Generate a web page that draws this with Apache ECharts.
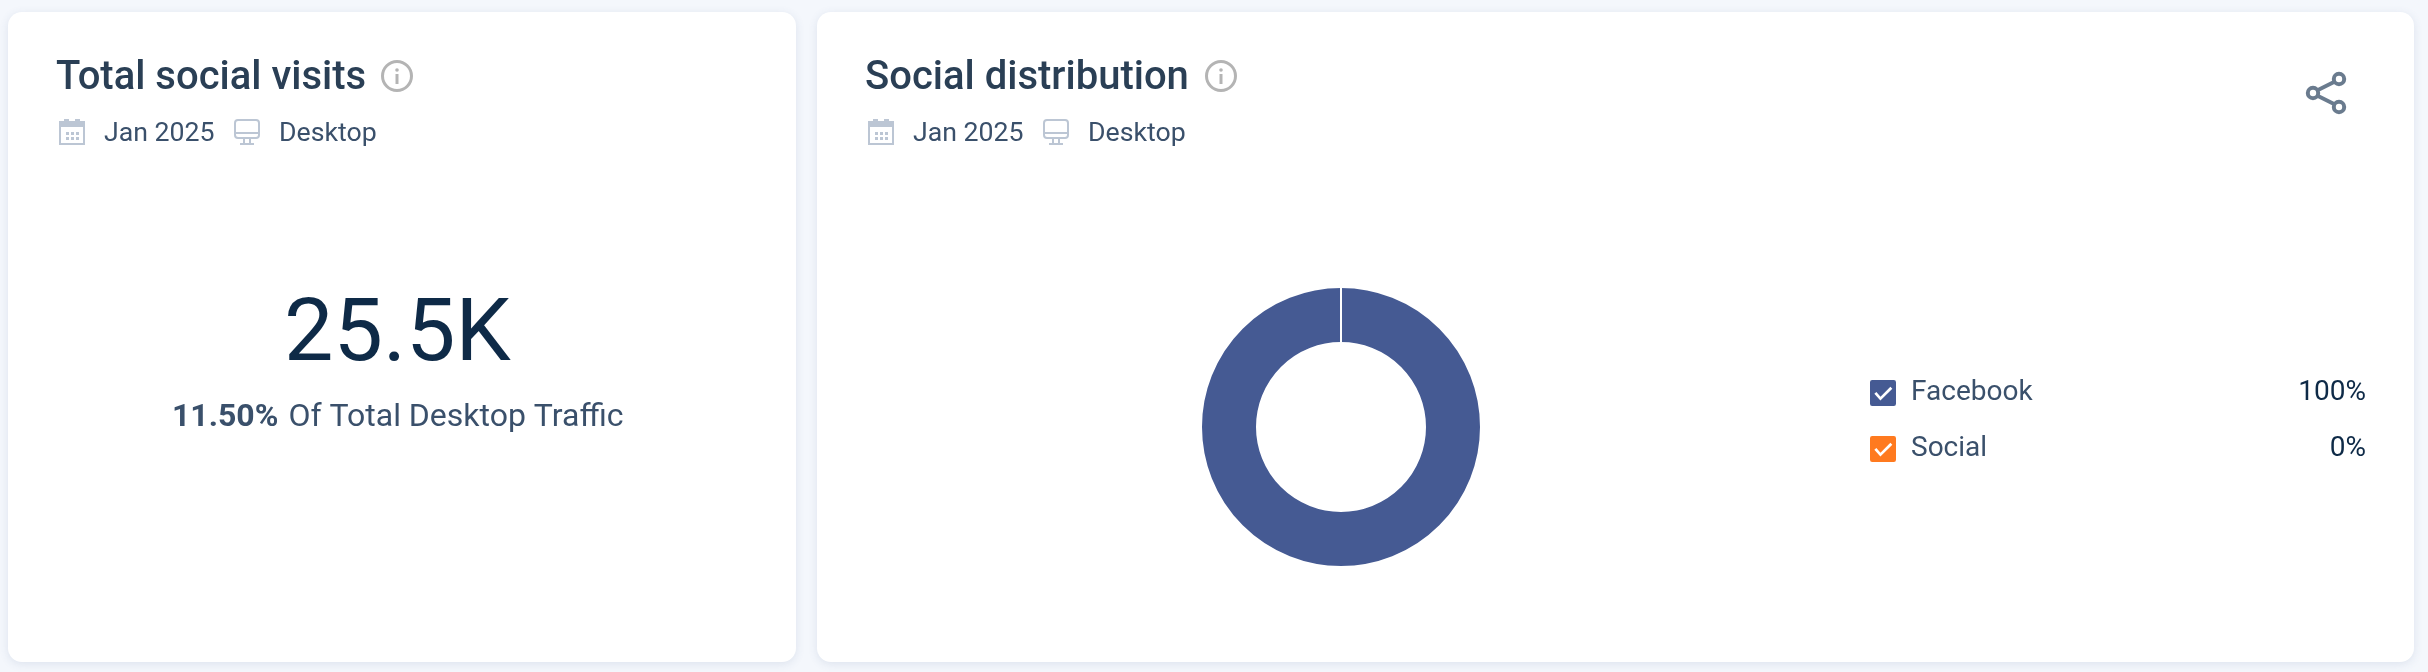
<!DOCTYPE html>
<html>
<head>
<meta charset="utf-8">
<title>Social visits</title>
<script src="https://cdn.jsdelivr.net/npm/echarts@6/dist/echarts.min.js"></script>
<style>
    html, body { margin: 0; padding: 0; width: 2428px; height: 672px; overflow: hidden; background: #f4f7fc; }
    .card { position: absolute; top: 12px; height: 650px; background: #fff; border-radius: 14px; box-shadow: 0 2px 10px rgba(60, 85, 130, 0.12); }
    #chart { position: absolute; left: 0; top: 0; width: 2428px; height: 672px; }
</style>
</head>
<body>
<div class="card" style="left: 8px; width: 788px;"></div>
<div class="card" style="left: 817px; width: 1597px;"></div>
<div id="chart"></div>
<script>
var socialNames = ['Facebook', 'Social'];
var socialValues = [100, 0];
var socialColors = ['#455a93', '#ff7a1f'];
var periodLabel = 'Jan 2025';
var deviceLabel = 'Desktop';
var totalVisits = '25.5K';
var trafficShare = '11.50%';

var FONT = 'Roboto';
var ICON = '#bcc6d4';
var checkIcon = 'path://M2 0H22Q24 0 24 2V22Q24 24 22 24H2Q0 24 0 22V2Q0 0 2 0Z' +
    'M4 12.8L9.6 19L20.6 8L18.8 6.2L9.7 15.4L5.9 11.1Z';

function label(text, left, top, size, color, weight) {
    return {
        text: text, left: left, top: top, padding: 0,
        textStyle: { fontFamily: FONT, fontSize: size, color: color, fontWeight: weight || 400, lineHeight: size + 6 }
    };
}

function infoIcon(x, y) {
    return {
        type: 'group', x: x, y: y, children: [
            { type: 'circle', shape: { cx: 0, cy: 0, r: 14.5 }, style: { fill: 'none', stroke: '#b4b4b4', lineWidth: 3 } },
            { type: 'circle', shape: { cx: 0, cy: -6, r: 1.8 }, style: { fill: '#b4b4b4' } },
            { type: 'rect', shape: { x: -1.5, y: -2, width: 3, height: 10 }, style: { fill: '#b4b4b4' } }
        ]
    };
}

function calendarIcon(x, y) {
    var kids = [
        { type: 'rect', shape: { x: 1, y: 3, width: 24, height: 22 }, style: { fill: 'none', stroke: ICON, lineWidth: 2 } },
        { type: 'rect', shape: { x: 0, y: 2, width: 26, height: 6 }, style: { fill: ICON } },
        { type: 'rect', shape: { x: 5, y: 0, width: 5, height: 3 }, style: { fill: ICON } },
        { type: 'rect', shape: { x: 16, y: 0, width: 5, height: 3 }, style: { fill: ICON } }
    ];
    for (var r = 0; r < 2; r++) {
        for (var c = 0; c < 3; c++) {
            kids.push({ type: 'rect', shape: { x: 7 + c * 5, y: 13 + r * 5, width: 3, height: 3 }, style: { fill: ICON } });
        }
    }
    return { type: 'group', x: x, y: y, children: kids };
}

function monitorIcon(x, y) {
    return {
        type: 'group', x: x, y: y, children: [
            { type: 'rect', shape: { x: 1, y: 1, width: 24, height: 18, r: 3 }, style: { fill: 'none', stroke: ICON, lineWidth: 2 } },
            { type: 'rect', shape: { x: 1, y: 13, width: 24, height: 2 }, style: { fill: ICON } },
            { type: 'rect', shape: { x: 9, y: 20, width: 2, height: 4 }, style: { fill: ICON } },
            { type: 'rect', shape: { x: 15, y: 20, width: 2, height: 4 }, style: { fill: ICON } },
            { type: 'rect', shape: { x: 6, y: 24, width: 14, height: 2 }, style: { fill: ICON } }
        ]
    };
}

function shareIcon() {
    var st = { fill: 'none', stroke: '#6a7b8e', lineWidth: 4 };
    return {
        type: 'group', x: 0, y: 0, children: [
            { type: 'line', shape: { x1: 2318, y1: 90, x2: 2334, y2: 82 }, style: st },
            { type: 'line', shape: { x1: 2318, y1: 96, x2: 2334, y2: 104 }, style: st },
            { type: 'circle', shape: { cx: 2339, cy: 79, r: 5.2 }, style: st },
            { type: 'circle', shape: { cx: 2313, cy: 93, r: 5.2 }, style: st },
            { type: 'circle', shape: { cx: 2339, cy: 107, r: 5.2 }, style: st }
        ]
    };
}

var chart = echarts.init(document.getElementById('chart'));

var option = {
    backgroundColor: 'transparent',
    animation: false,
    title: [
        label('Total social visits', 56, 56, 40, '#2a3f55', 500),
        label(periodLabel, 104, 118, 26.7, '#3a506b'),
        label(deviceLabel, 279, 118, 26.7, '#3a506b'),
        label('Social distribution', 865, 56, 40, '#2a3f55', 500),
        label(periodLabel, 913, 118, 26.7, '#3a506b'),
        label(deviceLabel, 1088, 118, 26.7, '#3a506b'),
        label(totalVisits, 284, 291, 88, '#0e2a47', 400),
        {
            text: '{b|' + trafficShare + '}  {n|Of Total Desktop Traffic}',
            left: 172, top: 402, padding: 0,
            textStyle: {
                rich: {
                    b: { fontFamily: FONT, fontSize: 32, fontWeight: 700, color: '#3a506b' },
                    n: { fontFamily: FONT, fontSize: 32, fontWeight: 400, color: '#3a506b' }
                }
            }
        }
    ],
    graphic: [
        infoIcon(397, 76),
        calendarIcon(59, 119),
        monitorIcon(234, 119),
        infoIcon(1221, 76),
        calendarIcon(868, 119),
        monitorIcon(1043, 119),
        shareIcon()
    ],
    legend: {
        orient: 'vertical',
        left: 1865,
        top: 374,
        itemWidth: 26,
        itemHeight: 32,
        itemGap: 28,
        icon: checkIcon,
        selectedMode: false,
        itemStyle: { borderWidth: 0 },
        data: socialNames,
        formatter: function(name) {
            var i = socialNames.indexOf(name);
            return '{n|' + name + '}{v|' + socialValues[i] + '%}';
        },
        textStyle: {
            rich: {
                n: { fontFamily: FONT, fontSize: 28, color: '#3a506b', width: 360, padding: [0, 0, 0, 10] },
                v: { fontFamily: FONT, fontSize: 28, color: '#0e2a47', width: 95, align: 'right' }
            }
        }
    },
    series: [{
        type: 'pie',
        center: [1341, 427],
        radius: [84, 140],
        startAngle: 90,
        silent: true,
        label: { show: false },
        labelLine: { show: false },
        itemStyle: { borderColor: '#fff', borderWidth: 2 },
        data: socialNames.map(function(name, i) {
            return { name: name, value: socialValues[i], itemStyle: { color: socialColors[i] } };
        })
    }]
};

chart.setOption(option);
</script>
</body>
</html>
